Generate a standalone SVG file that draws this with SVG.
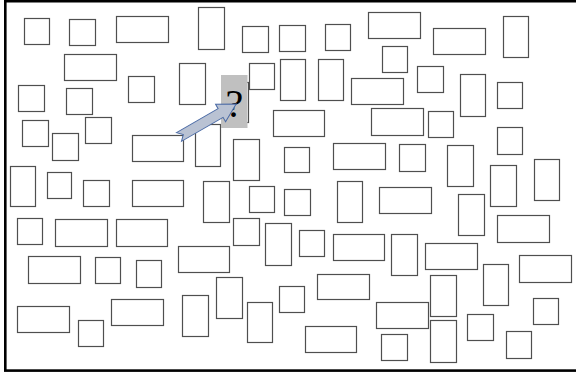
<svg xmlns="http://www.w3.org/2000/svg" width="576" height="374" viewBox="0 0 576 374">
<style>
.b{fill:#fff;stroke:#4f4f4f;stroke-width:1.2}
.frame{fill:none;stroke:#000;stroke-width:2.6}
.q{font-family:"Liberation Serif","Times New Roman",serif;font-size:40px;fill:#000}
</style>
<rect width="576" height="374" fill="#fff"/>
<rect class="frame" x="5.3" y="1.2" width="575" height="369.4"/>
<g id="boxes">
<rect id="r1" class="b" x="24.5" y="18.5" width="25" height="26"/>
<rect id="r2" class="b" x="69.5" y="19.5" width="26" height="26"/>
<rect id="r3" class="b" x="116.5" y="16.5" width="52" height="26"/>
<rect id="r4" class="b" x="198.5" y="7.5" width="26" height="42"/>
<rect id="r5" class="b" x="64.5" y="54.5" width="52" height="26"/>
<rect id="r6" class="b" x="128.5" y="76.5" width="26" height="26"/>
<rect id="r7" class="b" x="179.5" y="63.5" width="26" height="41"/>
<rect id="r8" class="b" x="18.5" y="85.5" width="26" height="26"/>
<rect id="r9" class="b" x="66.5" y="88.5" width="26" height="26"/>
<rect id="r10" class="b" x="22.5" y="120.5" width="26" height="26"/>
<rect id="r11" class="b" x="85.5" y="117.5" width="26" height="26"/>
<rect id="r12" class="b" x="242.5" y="26.5" width="26" height="26"/>
<rect id="r13" class="b" x="279.5" y="25.5" width="26" height="26"/>
<rect id="r14" class="b" x="325.5" y="24.5" width="25" height="26"/>
<rect id="r15" class="b" x="368.5" y="12.5" width="52" height="26"/>
<rect id="r16" class="b" x="382.5" y="46.5" width="25" height="26"/>
<rect id="r17" class="b" x="249.5" y="63.5" width="25" height="26"/>
<rect id="r18" class="b" x="280.5" y="59.5" width="25" height="41"/>
<rect id="r19" class="b" x="318.5" y="59.5" width="25" height="41"/>
<rect id="r20" class="b" x="351.5" y="78.5" width="52" height="26"/>
<rect id="r21" class="b" x="273.5" y="110.5" width="51" height="26"/>
<rect id="r22" class="b" x="371.5" y="108.5" width="52" height="27"/>
<rect id="r23" class="b" x="433.5" y="28.5" width="52" height="26"/>
<rect id="r24" class="b" x="503.5" y="16.5" width="25" height="41"/>
<rect id="r25" class="b" x="417.5" y="66.5" width="26" height="26"/>
<rect id="r26" class="b" x="460.5" y="74.5" width="25" height="42"/>
<rect id="r27" class="b" x="497.5" y="82.5" width="25" height="26"/>
<rect id="r28" class="b" x="428.5" y="111.5" width="25" height="26"/>
<rect id="r29" class="b" x="497.5" y="127.5" width="25" height="27"/>
<rect id="r30" class="b" x="52.5" y="133.5" width="26" height="27"/>
<rect id="r31" class="b" x="132.5" y="135.5" width="51" height="26"/>
<rect id="r32" class="b" x="195.5" y="124.5" width="25" height="42"/>
<rect id="r33" class="b" x="10.5" y="166.5" width="25" height="40"/>
<rect id="r34" class="b" x="47.5" y="172.5" width="24" height="26"/>
<rect id="r35" class="b" x="83.5" y="180.5" width="26" height="26"/>
<rect id="r36" class="b" x="132.5" y="180.5" width="51" height="26"/>
<rect id="r37" class="b" x="17.5" y="218.5" width="25" height="26"/>
<rect id="r38" class="b" x="55.5" y="219.5" width="52" height="27"/>
<rect id="r39" class="b" x="116.5" y="219.5" width="51" height="27"/>
<rect id="r40" class="b" x="178.5" y="246.5" width="51" height="26"/>
<rect id="r41" class="b" x="233.5" y="139.5" width="26" height="41"/>
<rect id="r42" class="b" x="284.5" y="147.5" width="25" height="25"/>
<rect id="r43" class="b" x="333.5" y="143.5" width="52" height="26"/>
<rect id="r44" class="b" x="203.5" y="181.5" width="26" height="41"/>
<rect id="r45" class="b" x="249.5" y="186.5" width="25" height="26"/>
<rect id="r46" class="b" x="284.5" y="189.5" width="26" height="26"/>
<rect id="r47" class="b" x="337.5" y="181.5" width="25" height="41"/>
<rect id="r48" class="b" x="379.5" y="187.5" width="52" height="26"/>
<rect id="r49" class="b" x="233.5" y="218.5" width="26" height="27"/>
<rect id="r50" class="b" x="265.5" y="223.5" width="26" height="42"/>
<rect id="r51" class="b" x="299.5" y="230.5" width="25" height="26"/>
<rect id="r52" class="b" x="333.5" y="234.5" width="51" height="26"/>
<rect id="r53" class="b" x="399.5" y="144.5" width="26" height="27"/>
<rect id="r54" class="b" x="447.5" y="145.5" width="26" height="41"/>
<rect id="r55" class="b" x="490.5" y="165.5" width="26" height="41"/>
<rect id="r56" class="b" x="534.5" y="159.5" width="25" height="41"/>
<rect id="r57" class="b" x="458.5" y="194.5" width="26" height="41"/>
<rect id="r58" class="b" x="497.5" y="215.5" width="52" height="27"/>
<rect id="r59" class="b" x="391.5" y="234.5" width="26" height="41"/>
<rect id="r60" class="b" x="425.5" y="243.5" width="52" height="26"/>
<rect id="r61" class="b" x="28.5" y="256.5" width="52" height="27"/>
<rect id="r62" class="b" x="95.5" y="257.5" width="25" height="26"/>
<rect id="r63" class="b" x="136.5" y="260.5" width="25" height="27"/>
<rect id="r64" class="b" x="17.5" y="306.5" width="52" height="26"/>
<rect id="r65" class="b" x="78.5" y="320.5" width="25" height="26"/>
<rect id="r66" class="b" x="111.5" y="299.5" width="52" height="26"/>
<rect id="r67" class="b" x="182.5" y="295.5" width="26" height="41"/>
<rect id="r68" class="b" x="216.5" y="277.5" width="26" height="41"/>
<rect id="r69" class="b" x="247.5" y="302.5" width="25" height="40"/>
<rect id="r70" class="b" x="279.5" y="286.5" width="25" height="26"/>
<rect id="r71" class="b" x="317.5" y="274.5" width="52" height="25"/>
<rect id="r72" class="b" x="305.5" y="326.5" width="51" height="26"/>
<rect id="r73" class="b" x="376.5" y="302.5" width="52" height="26"/>
<rect id="r74" class="b" x="381.5" y="334.5" width="26" height="26"/>
<rect id="r75" class="b" x="430.5" y="275.5" width="26" height="41"/>
<rect id="r76" class="b" x="430.5" y="320.5" width="26" height="42"/>
<rect id="r77" class="b" x="483.5" y="264.5" width="25" height="41"/>
<rect id="r78" class="b" x="519.5" y="255.5" width="52" height="27"/>
<rect id="r79" class="b" x="467.5" y="314.5" width="26" height="26"/>
<rect id="r80" class="b" x="533.5" y="298.5" width="25" height="26"/>
<rect id="r81" class="b" x="506.5" y="331.5" width="25" height="27"/>
<rect id="r82" class="b" x="222.5" y="82.5" width="26" height="40"/>
</g>
<g id="question">
<rect x="221" y="75" width="26.5" height="53" fill="#c0c0c0"/>
<text class="q" x="234.5" y="117" text-anchor="middle">?</text>
</g>
<g id="connectors">
<polygon points="0,-5 48,-5 48,-10 66,0 48,10 48,5 0,5 5,0" transform="translate(179 137) rotate(-30)" fill="#b9c2d3" stroke="#4a6aa5" stroke-width="1" stroke-linejoin="miter"/>
</g>
</svg>
